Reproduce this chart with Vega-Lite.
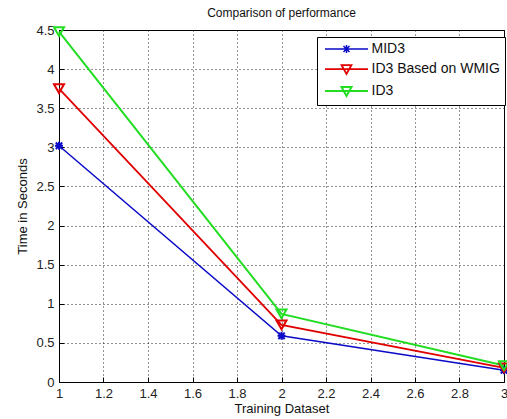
{
  "$schema": "https://vega.github.io/schema/vega-lite/v6.json",
  "width": 445,
  "height": 352,
  "autosize": {"type": "none"},
  "padding": {"left": 59, "top": 30, "right": 3, "bottom": 37},
  "background": "white",
  "title": {"text": "Comparison of performance", "fontSize": 12, "fontWeight": "normal", "font": "Liberation Sans", "color": "#111", "offset": 3},
  "config": {
    "view": {"stroke": "black", "strokeWidth": 1},
    "font": "Liberation Sans",
    "axis": {
      "grid": true, "gridColor": "black", "gridDash": [1, 3], "gridOpacity": 0.85, "gridWidth": 1,
      "domainColor": "black", "domainWidth": 1,
      "tickColor": "black", "tickSize": -5,
      "labelFont": "Liberation Sans", "labelFontSize": 13, "labelColor": "#222",
      "titleFont": "Liberation Sans", "titleFontSize": 13, "titleFontWeight": "normal", "titleColor": "#111"
    }
  },
  "data": {"values": [
    {"x": 1, "t": 3.02, "s": "MID3"},
    {"x": 2, "t": 0.59, "s": "MID3"},
    {"x": 3, "t": 0.15, "s": "MID3"},
    {"x": 1, "t": 3.75, "s": "ID3 Based on WMIG"},
    {"x": 2, "t": 0.73, "s": "ID3 Based on WMIG"},
    {"x": 3, "t": 0.18, "s": "ID3 Based on WMIG"},
    {"x": 1, "t": 4.48, "s": "ID3"},
    {"x": 2, "t": 0.87, "s": "ID3"},
    {"x": 3, "t": 0.21, "s": "ID3"}
  ]},
  "encoding": {
    "x": {"field": "x", "type": "quantitative",
      "scale": {"domain": [1, 3], "nice": false, "zero": false},
      "axis": {"values": [1, 1.2, 1.4, 1.6, 1.8, 2, 2.2, 2.4, 2.6, 2.8, 3], "format": "~g", "title": "Training Dataset", "labelPadding": 10, "titlePadding": 2, "labelFlush": false}},
    "y": {"field": "t", "type": "quantitative",
      "scale": {"domain": [0, 4.5], "nice": false},
      "axis": {"values": [0, 0.5, 1, 1.5, 2, 2.5, 3, 3.5, 4, 4.5], "format": "~g", "title": "Time in Seconds", "labelPadding": 10, "titlePadding": 6, "labelFlush": false}},
    "color": {"field": "s", "type": "nominal",
      "scale": {"domain": ["MID3", "ID3 Based on WMIG", "ID3"], "range": ["#0a0ac8", "#e00000", "#22dd22"]},
      "legend": {
        "title": null, "orient": "none", "legendX": 258, "legendY": 7,
        "strokeColor": "black", "fillColor": "white", "padding": 5,
        "symbolSize": 100, "symbolOffset": 17.5, "labelOffset": 18, "rowPadding": 5,
        "labelFont": "Liberation Sans", "labelFontSize": 14, "labelColor": "#111",
        "symbolStrokeWidth": 2,
        "encode": {"symbols": {"update": {
          "shape": {"signal": "datum.value === 'MID3' ? 'M-4.3,0L4.3,0M0,-0.8L0,0.8M-0.6,-0.6L0.6,0.6M-0.6,0.6L0.6,-0.6' : 'M-4.3,0L4.3,0M-1,-0.8L1,-0.8L0,1Z'"},
          "fill": {"value": "transparent"},
          "strokeWidth": {"value": 2}
        }}}
      }}
  },
  "layer": [
    {"mark": {"type": "line"},
      "encoding": {
        "strokeWidth": {"field": "s", "type": "nominal",
          "scale": {"domain": ["MID3", "ID3 Based on WMIG", "ID3"], "range": [1.5, 2, 2]},
          "legend": null}
      }},
    {"transform": [{"filter": "datum.s === 'MID3'"}],
      "mark": {"type": "point", "filled": false, "strokeWidth": 2, "size": 64, "opacity": 1,
        "shape": "M0,-1L0,1M-0.8,-0.8L0.8,0.8M-0.8,0.8L0.8,-0.8M-1,0L1,0"}},
    {"transform": [{"filter": "datum.s !== 'MID3'"}],
      "mark": {"type": "point", "filled": false, "strokeWidth": 2, "size": 100, "opacity": 1,
        "shape": "triangle-down"}}
  ]
}
